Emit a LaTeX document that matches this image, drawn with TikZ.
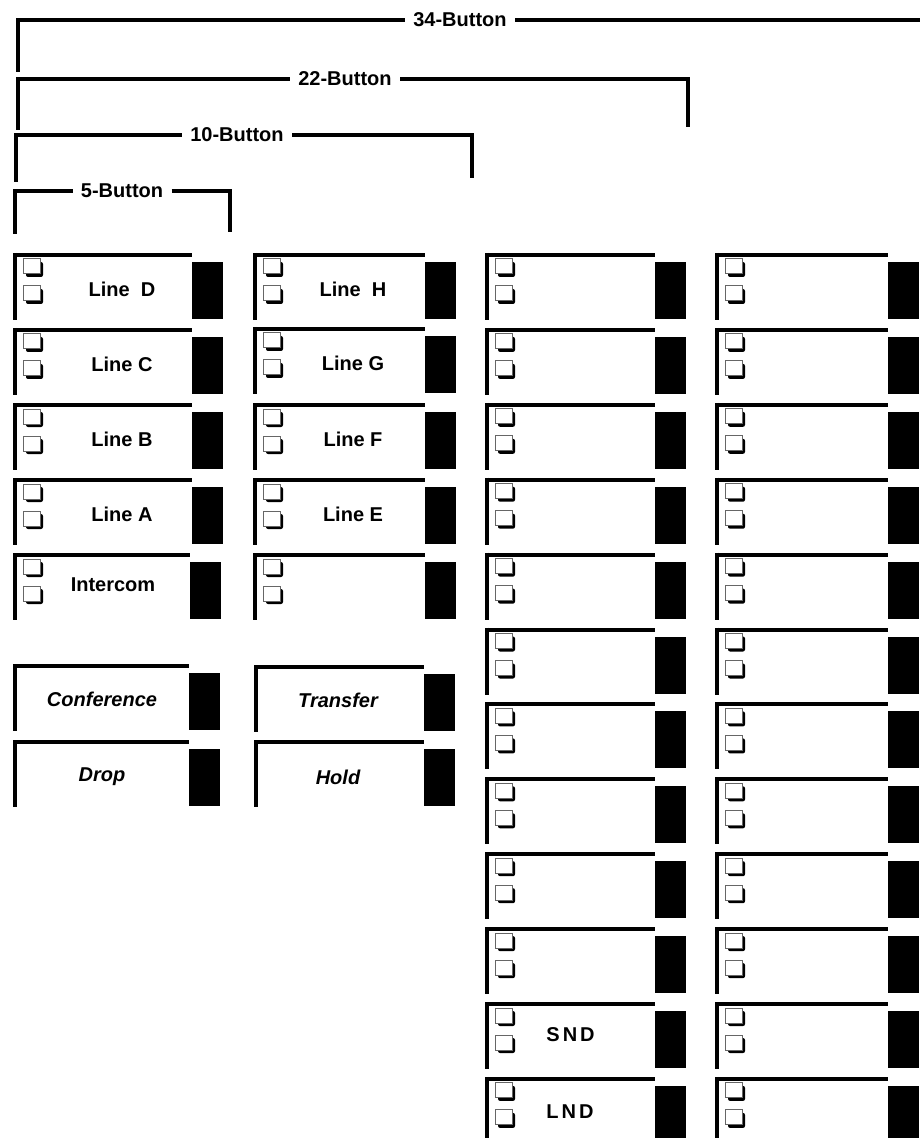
\documentclass[tikz,border=0pt]{standalone}
\usepackage{fontspec}
\setmainfont{Liberation Sans}
\usetikzlibrary{positioning}

\begin{document}
\begin{tikzpicture}[x=0.5pt, y=-0.5pt,
    frame/.style={line width=2pt},
    lamp/.style={fill=black},
    keylabel/.style={font=\bfseries\fontsize{10}{12}\selectfont, inner sep=1pt},
    featlabel/.style={font=\bfseries\itshape\fontsize{10}{12}\selectfont, inner sep=1pt},
    grouplabel/.style={font=\bfseries\fontsize{10}{12}\selectfont, inner sep=4pt},
    pics/keycap/.style={code={
        \draw[frame] (0,-2) -- (0,65);
        \draw[frame] (-2,0) -- (#1,0);
        \fill[lamp] (#1,7) rectangle ++(31,57);
    }},
    pics/chkpair/.style={code={
        \foreach \dy in {4,31} {
            \fill[black, rounded corners=1pt] (11,\dy+3) rectangle ++(17,15);
            \draw[gray!80!black, fill=white, line width=0.5pt] (8,\dy) rectangle ++(17,15);
        }
    }}]
    \useasboundingbox (0,0) rectangle (919,1138);

    % Group brackets
    \node[grouplabel] (b34) at (460,20) {34-Button};
    \draw[frame] (18,72) |- (b34.west);
    \draw[frame] (b34.east) -- (921,20);

    \node[grouplabel] (b22) at (345,79) {22-Button};
    \draw[frame] (18,130) |- (b22.west);
    \draw[frame] (b22.east) -| (688,127);

    \node[grouplabel] (b10) at (237,135) {10-Button};
    \draw[frame] (16,182) |- (b10.west);
    \draw[frame] (b10.east) -| (472,178);

    \node[grouplabel] (b5) at (122,191) {5-Button};
    \draw[frame] (15,234) |- (b5.west);
    \draw[frame] (b5.east) -| (230,232);

    % Column 1: line keys
    \foreach \y/\name/\txt in {255/lineD/Line~~D, 330/lineC/Line C, 405/lineB/Line B, 480/lineA/Line A} {
        \pic at (15,\y) {keycap=177};
        \pic at (15,\y) {chkpair};
        \node[keylabel] (\name) at (122,\y+34) {\txt};
    }
    \pic at (15,555) {keycap=175};
    \pic at (15,555) {chkpair};
    \node[keylabel] (intercom) at (113,585) {Intercom};

    % Column 2: line keys
    \foreach \y/\name/\txt in {255/lineH/Line~~H, 329/lineG/Line G, 405/lineF/Line F, 480/lineE/Line E} {
        \pic at (255,\y) {keycap=170};
        \pic at (255,\y) {chkpair};
        \node[keylabel] (\name) at (353,\y+34) {\txt};
    }
    \pic at (255,555) {keycap=170};
    \pic at (255,555) {chkpair};

    % Feature keys
    \pic at (15,666) {keycap=174};
    \node[featlabel] (conf) at (102,699) {Conference};
    \pic at (15,742) {keycap=174};
    \node[featlabel] (drop) at (102,777) {Drop};
    \pic at (256,667) {keycap=168};
    \node[featlabel] (transfer) at (338,700) {Transfer};
    \pic at (256,742) {keycap=168};
    \node[featlabel] (hold) at (338,777) {Hold};

    % Columns 3 and 4
    \foreach \k in {0,...,11} {
        \pic at (487,255+74.9*\k) {keycap=168};
        \pic at (487,255+74.9*\k) {chkpair};
        \pic at (717,255+74.9*\k) {keycap=171};
        \pic at (717,255+74.9*\k) {chkpair};
    }
    \node[keylabel, anchor=west] (snd) at (544,1035) {S\kern1.5pt N\kern1.5pt D};
    \node[keylabel, anchor=west] (lnd) at (544,1112) {L\kern1.5pt N\kern1.5pt D};
\end{tikzpicture}
\end{document}
